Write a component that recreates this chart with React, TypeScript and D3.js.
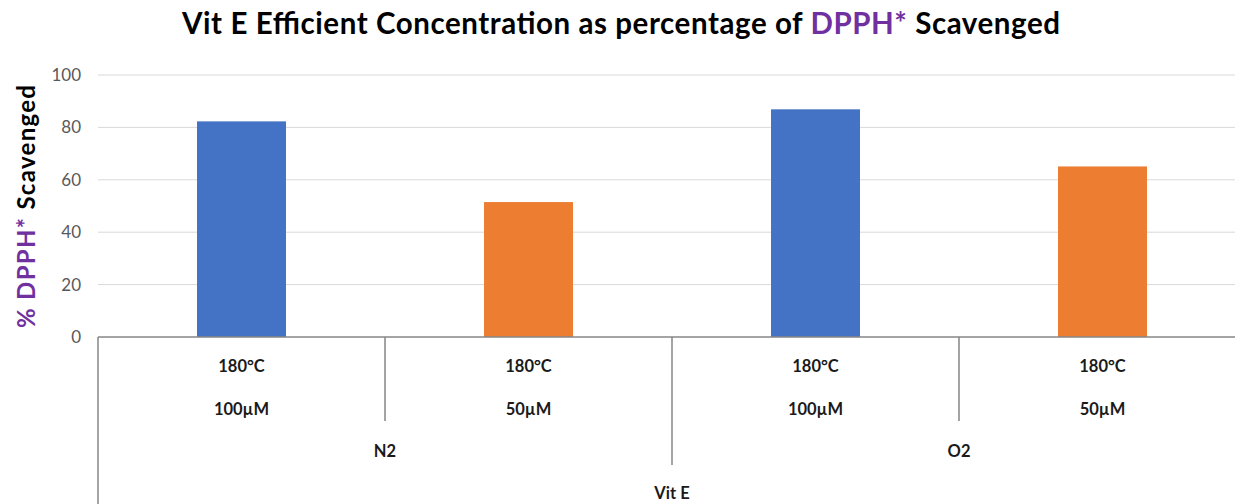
import React from "react";
import * as d3 from "d3";

const categories = ["180°C|100µM", "180°C|50µM", "180°C|100µM", "180°C|50µM"];
const tempLabels = ["180°C", "180°C", "180°C", "180°C"];
const concLabels = ["100µM", "50µM", "100µM", "50µM"];
const gasGroups = ["N2", "O2"];
const topGroup = "Vit E";
const values = [82.3, 51.5, 86.9, 65.1];
const barColors = ["#4472C4", "#ED7D31", "#4472C4", "#ED7D31"];
const yTicks = [0, 20, 40, 60, 80, 100];

export default function App() {
  const W = 1235, H = 504;
  const left = 98, right = 1246, top = 75, bottom = 337;
  const idx = categories.map((_, i) => i);
  const x = d3.scaleBand<number>().domain(idx).range([left, right]).paddingInner(0).paddingOuter(0);
  const y = d3.scaleLinear().domain([0, 100]).range([bottom, top]);
  const step = x.step();
  const barW = step * 0.31;
  const font = "Lato, 'Open Sans', sans-serif";

  const gasX = (g: number) => x(g * 2)! + step;
  const catFs = 16.5;
  return (
    <svg width={W} height={H} style={{ position: "absolute", left: 0, top: 0, background: "#fff" }}>
      <text x={182} y={34} textLength={878} lengthAdjust="spacing" fontFamily={font} fontWeight={700} fontSize={29.5} fill="#000">
        Vit E Efficient Concentration as percentage of <tspan fill="#7030A0">DPPH*</tspan> Scavenged
      </text>
      {yTicks.map((t) => (
        <g key={t}>
          {t > 0 && <line x1={left} x2={right} y1={y(t)} y2={y(t)} stroke="#D9D9D9" strokeWidth={1} />}
          <text x={81} y={y(t) + 6} textAnchor="end" fontFamily={font} fontSize={17} fill="#595959">{t}</text>
        </g>
      ))}
      <text transform={`translate(35, 328) rotate(-90)`} textLength={243} lengthAdjust="spacing" fontFamily={font} fontWeight={700} fontSize={24} fill="#000">
        <tspan fill="#7030A0">% DPPH*</tspan> Scavenged
      </text>
      {values.map((v, i) => (
        <rect key={i} x={x(i)! + (step - barW) / 2} y={y(v)} width={barW} height={y(0) - y(v)} fill={barColors[i]} />
      ))}
      <line x1={left} x2={right} y1={bottom} y2={bottom} stroke="#868686" strokeWidth={1.5} />
      <line x1={left} x2={left} y1={bottom} y2={H} stroke="#868686" strokeWidth={1.5} />
      {idx.slice(1).map((i) => (
        <line key={i} x1={x(i)} x2={x(i)} y1={bottom} y2={i === 2 ? 465 : 421} stroke="#868686" strokeWidth={1.5} />
      ))}
      {idx.map((i) => (
        <g key={i}>
          <text x={x(i)! + step / 2} y={372} textAnchor="middle" fontFamily={font} fontWeight={700} fontSize={catFs} fill="#1a1a1a">{tempLabels[i]}</text>
          <text x={x(i)! + step / 2} y={415} textAnchor="middle" fontFamily={font} fontWeight={700} fontSize={catFs} fill="#1a1a1a">{concLabels[i]}</text>
        </g>
      ))}
      {gasGroups.map((g, gi) => (
        <text key={g} x={gasX(gi)} y={457} textAnchor="middle" fontFamily={font} fontWeight={700} fontSize={catFs} fill="#1a1a1a">{g}</text>
      ))}
      <text x={(left + right) / 2} y={499} textAnchor="middle" fontFamily={font} fontWeight={700} fontSize={catFs} fill="#1a1a1a">{topGroup}</text>
    </svg>
  );
}
